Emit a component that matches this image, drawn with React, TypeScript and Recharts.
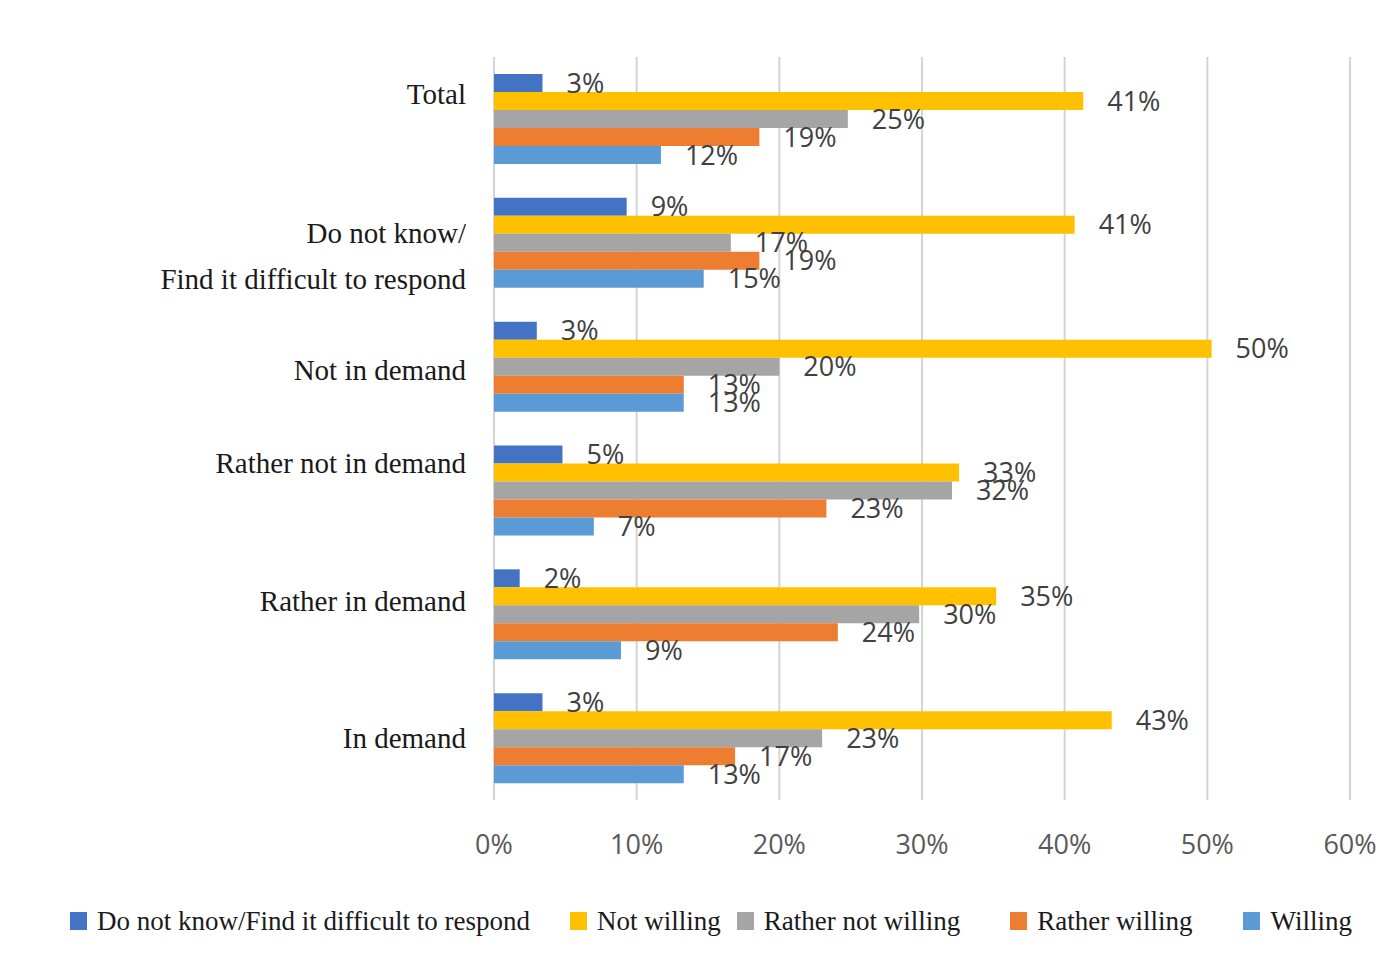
import React from "react";
import {
  BarChart,
  Bar,
  XAxis,
  YAxis,
  CartesianGrid,
  Legend,
  LabelList,
} from "recharts";

const categories = [
  "Total",
  "Do not know/Find it difficult to respond",
  "Not in demand",
  "Rather not in demand",
  "Rather in demand",
  "In demand",
];

const doNotKnow = [3.4, 9.3, 3.0, 4.8, 1.8, 3.4];
const notWilling = [41.3, 40.7, 50.3, 32.6, 35.2, 43.3];
const ratherNotWilling = [24.8, 16.6, 20.0, 32.1, 29.8, 23.0];
const ratherWilling = [18.6, 18.6, 13.3, 23.3, 24.1, 16.9];
const willing = [11.7, 14.7, 13.3, 7.0, 8.9, 13.3];

const xTicks = [0, 10, 20, 30, 40, 50, 60];

const series = [
  { key: "dk", name: "Do not know/Find it difficult to respond", color: "#4472C4" },
  { key: "nw", name: "Not willing", color: "#FFC000" },
  { key: "rnw", name: "Rather not willing", color: "#A5A5A5" },
  { key: "rw", name: "Rather willing", color: "#ED7D31" },
  { key: "w", name: "Willing", color: "#5B9BD5" },
];

const data = categories.map((name, i) => ({
  name,
  dk: doNotKnow[i],
  nw: notWilling[i],
  rnw: ratherNotWilling[i],
  rw: ratherWilling[i],
  w: willing[i],
}));

const SERIF = '"Liberation Serif", "Times New Roman", serif';
const SANS = '"Open Sans", "DejaVu Sans", sans-serif';

// the category labels in the original sit a little off the band centres
const labelNudge: Record<string, number> = {
  Total: -24,
  "Do not know/Find it difficult to respond": 14,
  "Not in demand": 4,
  "Rather not in demand": -27,
  "Rather in demand": -13,
  "In demand": 0,
};

// spacing before each legend entry (the source legend is unevenly spaced)
const legendGaps = [0, 40, 16, 50, 51];

const CategoryTick = (props: any) => {
  const { x, y, payload } = props;
  const label: string = payload.value;
  const cy = y + (labelNudge[label] ?? 0) + 9.5;
  const lines =
    label === "Do not know/Find it difficult to respond"
      ? ["Do not know/", "Find it difficult to respond"]
      : [label];
  const lh = 46;
  const start = cy - ((lines.length - 1) * lh) / 2;
  return (
    <text
      x={x}
      y={start}
      textAnchor="end"
      fill="#1a1a1a"
      fontFamily={SERIF}
      fontSize={29}
    >
      {lines.map((l, i) => (
        <tspan key={i} x={x} y={start + i * lh}>
          {l}
        </tspan>
      ))}
    </text>
  );
};

const LegendContent = (props: any) => {
  const payload = props.payload || [];
  return (
    <div
      style={{
        display: "flex",
        alignItems: "center",
        height: 30,
        paddingLeft: 62,
        fontFamily: SERIF,
        fontSize: 27,
        color: "#1a1a1a",
      }}
    >
      {payload.map((p: any, i: number) => (
        <div
          key={p.value}
          style={{ display: "flex", alignItems: "center", marginLeft: legendGaps[i] }}
        >
          <span
            style={{
              display: "inline-block",
              width: 17,
              height: 18,
              background: p.color,
              marginRight: 10,
            }}
          />
          <span style={{ whiteSpace: "nowrap" }}>{p.value}</span>
        </div>
      ))}
    </div>
  );
};

export default function App() {
  return (
    <BarChart
      width={1400}
      height={948}
      data={data}
      layout="vertical"
      margin={{ top: 49, right: 58, left: 0, bottom: 96 }}
      barSize={18}
      barGap={0}
    >
      <CartesianGrid horizontal={false} stroke="#d4d4d4" strokeWidth={2} />
      <XAxis
        type="number"
        domain={[0, 60]}
        ticks={xTicks}
        tickFormatter={(v: number) => `${v}%`}
        axisLine={false}
        tickLine={false}
        tickSize={6}
        tickMargin={29}
        height={60}
        tick={{ fill: "#595959", fontFamily: SANS, fontSize: 27 }}
      />
      <YAxis
        type="category"
        dataKey="name"
        width={486}
        axisLine={false}
        tickLine={false}
        tickSize={0}
        tickMargin={28}
        interval={0}
        tick={<CategoryTick />}
      />
      <Legend
        verticalAlign="middle"
        align="center"
        layout="horizontal"
        wrapperStyle={{ top: 898, left: 0, width: 1400 }}
        content={<LegendContent />}
      />
      {series.map((s) => (
        <Bar
          key={s.key}
          dataKey={s.key}
          name={s.name}
          fill={s.color}
          isAnimationActive={false}
        >
          <LabelList
            dataKey={s.key}
            position="right"
            offset={24}
            formatter={(v: any) => `${Math.round(Number(v))}%`}
            fill="#404040"
            fontFamily={SANS}
            fontSize={27}
          />
        </Bar>
      ))}
    </BarChart>
  );
}
